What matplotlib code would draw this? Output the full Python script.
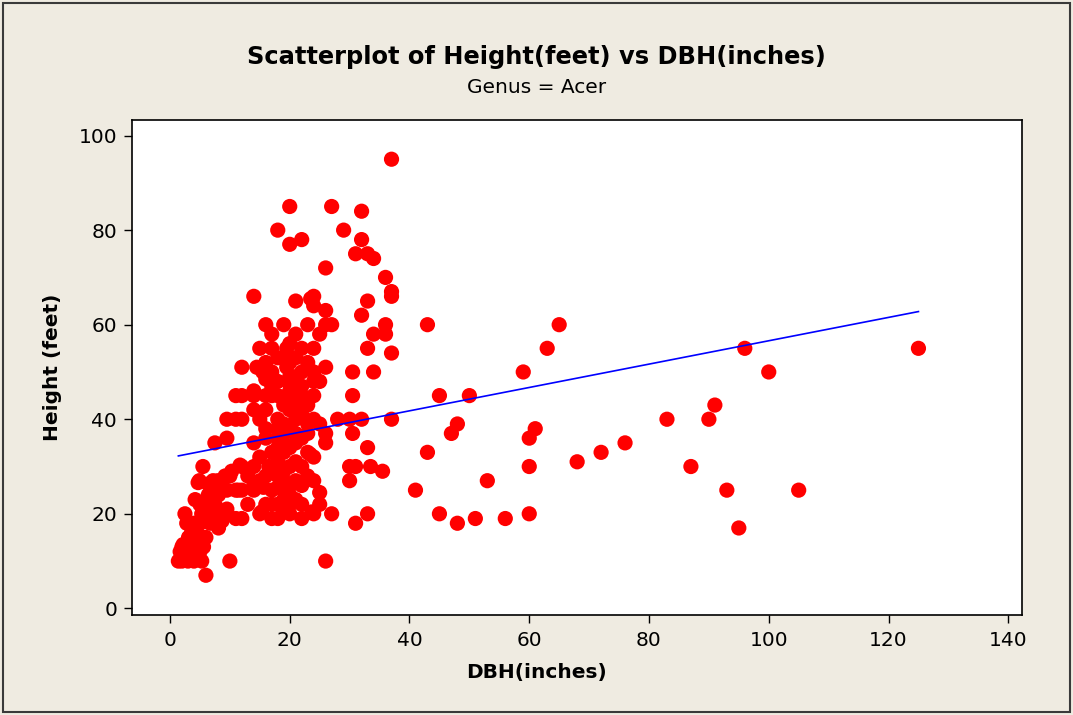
import numpy as np
import matplotlib
matplotlib.use("Agg")
import matplotlib.pyplot as plt
from matplotlib.patches import Rectangle

title = "Scatterplot of Height(feet) vs DBH(inches)"
subtitle = "Genus = Acer"
x_label = "DBH(inches)"
y_label = "Height (feet)"
x_ticks = [0, 20, 40, 60, 80, 100, 120, 140]
y_ticks = [0, 20, 40, 60, 80, 100]

# (DBH, Height) pairs
points = [
    # low-left cluster
    (1.4,10),(3,10),(5.3,10),(2,10),(4,11),(3.9,11.6),(6,7),(10,10),(2,13),(2.2,13.5),
    (3.9,13),(5.6,13),(1.7,12),(5,12),(4.5,15),(3.1,15),(5.6,15),(2.8,18),(5,18),(6.7,18),
    (8.1,17),(2.5,20),(5.3,20),(7.5,21),(9.5,20),(11,19),(3.6,16),(7.3,19),(8.7,18.5),
    (4.2,23),(6.4,24),(8.1,24),(9.5,25),(11.4,25),(6.4,23),(7.5,22),(9.5,21),(4.9,27),
    (7.2,27),(9.2,28),(10.3,29),(12,30),(5.5,30),(4.7,26.6),(6.4,26.3),(8,27),(10,28),
    (4,18),(3,14),(4.5,16),(6,20),(3,12),(4,10),(6,15),(7,25),(5,22),
    # middle cluster
    (7.5,35),(9.5,36),(9.5,40),(11,40),(12,40),(11,45),(12,45),(12,51),(14.5,51),(15.5,50),
    (17,50),(19.5,51),(20,49),(22,50),(24,50),(26,51),(25,48),(24,48),(30.5,50),(34,50),
    (16,48.5),(20,47.5),(14,46),(14,45),(16,45),(17,45),(18,45),(19.6,45),(20,46),(22,45),
    (24,45),(30.5,45),(14,42),(16,42),(20,42),(22,41),(15,40),(18,40),(21,40),(23,39),
    (25,39),(24,40),(28,40),(30,40),(32,40),(26,37),(30.5,37),(14,35),(16,36),(18,36),
    (18,34),(21,35),(26,35),(23,33),(24,32),(33,34),(15,32),(18,32.6),(14,30),(16.5,30),
    (18,31),(20,30),(18,28),(30,30),(31,30),(33.5,30),(35.5,29),(30,27),(11,25),(12,25),
    (14,25),(14,26),(15.6,25.6),(17,25),(18,25.6),(19,25),(19,23),(20,26),(22,26),(25,24.5),
    (25,22),(22,22),(12,19),(15,20),(17,19),(18,19),(20,20),(24,20),(27,20),(33,20),
    (31,18),(26,10),
    (19,21),(19,27),(19,29),(19,33),(19,37),(19,39),(19,43),(19,53),(20,22),(20,38),
    (20,44),(18,38),(21,27),(21,31),(20,24),(18,22),(22,30),(21,45),(19,35),(20,52),
    (23.4,32.6),(22,26.5),(11.7,30.3),(15.3,20.4),(23.7,20.4),
    (16,52),(18,53),(21,53),(23,52),(17,47),(22,47),(23,43),(16,38),(17,33),(22,36),
    (23,37),(16,28),(17,22),(21,23),(23,28),(24,27),(22,19),(16,22),(15,27),(13,28),
    (13,22),(21,49),(22,43),(18,48),(20,34),(21,37),
    # 55 and above
    (15,55),(17,55),(19.5,55),(22,55),(24,55),(33,55),(20,56),(17,58),(21,58),(25,58),
    (34,58),(16,60),(19,60),(23,60),(26,60),(27,60),(36,60),(36,58),
    (14,66),(21,65),(23.5,65.5),(24,66),(24,64),(26,63),(33,65),(32,62),(20,85),(27,85),
    (32,84),(18,80),(29,80),(22,78),(20,77),(32,78),(31,75),(33,75),(34,74),(26,72),
    (36,70),(37,67),(37,66),(37,54),(37,40),(37,95),
    # far points
    (43,60),(65,60),(63,55),(59,50),(45,45),(50,45),(48,39),(47,37),(61,38),(60,36),
    (43,33),(83,40),(76,35),(72,33),(68,31),(60,30),(87,30),(53,27),(41,25),(45,20),
    (48,18),(51,19),(56,19),(60,20),(96,55),(125,55),(100,50),(91,43),(90,40),(93,25),
    (105,25),(95,17),
]
dbh = np.array([p[0] for p in points])
height = np.array([p[1] for p in points])

# fitted regression line as drawn in the reference
fit_intercept = 31.9
fit_slope = 0.247

bg = "#EFEBE1"
fig = plt.figure(figsize=(10.73, 7.15), dpi=100, facecolor=bg)
fig.patches.append(Rectangle((0.003, 0.004), 0.994, 0.992, transform=fig.transFigure,
                             fill=False, edgecolor="#3a3a3a", linewidth=1.5))
ax = fig.add_axes([0.1227, 0.1399, 0.8298, 0.6923])
ax.set_facecolor("white")

ax.scatter(dbh, height, s=120, color="#FF0000", edgecolors="none", zorder=3)

xl = np.array([dbh.min(), dbh.max()])
ax.plot(xl, fit_intercept + fit_slope * xl, color="#0000FF", linewidth=1.2, zorder=4)

ax.set_xlim(-6.4, 142.3)
ax.set_ylim(-1.4, 103.3)
ax.set_xticks(x_ticks)
ax.set_yticks(y_ticks)
ax.tick_params(axis="both", labelsize=14.5, length=5.5, width=1.0, direction="out")
ax.tick_params(axis="x", pad=6)
ax.tick_params(axis="y", pad=5)
for sp in ax.spines.values():
    sp.set_linewidth(1.2)
    sp.set_color("black")

fig.text(0.5, 0.920, title, ha="center", va="center", fontsize=17.4, fontweight="bold")
fig.text(0.5, 0.877, subtitle, ha="center", va="center", fontsize=14.5)
fig.text(0.5, 0.059, x_label, ha="center", va="center", fontsize=14.5, fontweight="bold")
fig.text(0.0485, 0.4865, y_label, ha="center", va="center", fontsize=14.5,
         fontweight="bold", rotation=90)

fig.savefig("out.png", dpi=100, facecolor=bg)
